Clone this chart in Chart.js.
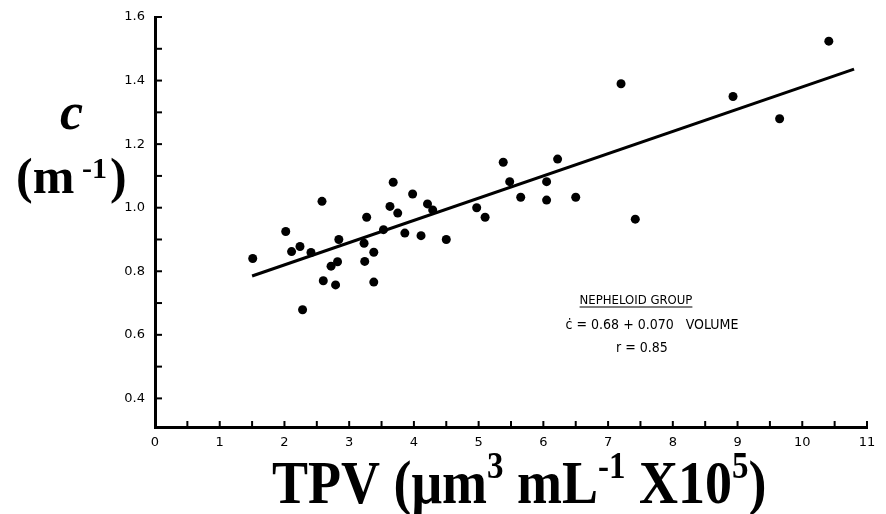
<!DOCTYPE html>
<html>
<head>
<meta charset="utf-8">
<script src="https://cdn.jsdelivr.net/npm/chart.js@4"></script>
<style>
  html, body { margin: 0; padding: 0; background: #fff; }
  #wrap { width: 886px; height: 514px; }
</style>
</head>
<body>
<div id="wrap"><canvas id="myChart" width="886" height="514"></canvas></div>
<script>
// nepheloid group: total particle volume vs beam attenuation
const tpv = [1.51, 2.02, 2.58, 2.11, 2.24, 2.41, 2.84, 2.72, 2.82, 2.60, 2.79, 2.28,
             3.27, 3.23, 3.24, 3.38, 3.38, 3.53, 3.68, 3.63, 3.75, 3.98, 3.86, 4.11,
             4.21, 4.29, 4.50, 4.97, 5.10, 5.38, 5.48, 5.65, 6.22, 6.05, 6.05, 6.50,
             7.42, 7.20, 8.93, 9.65, 10.41];
const beamC = [0.84, 0.925, 1.02, 0.862, 0.878, 0.859, 0.90, 0.816, 0.83, 0.77, 0.757, 0.679,
               0.97, 0.888, 0.831, 0.86, 0.766, 0.931, 1.08, 1.004, 0.983, 1.043, 0.92, 0.912,
               1.012, 0.993, 0.90, 1.00, 0.97, 1.143, 1.082, 1.033, 1.153, 1.082, 1.024, 1.033,
               0.964, 1.39, 1.35, 1.28, 1.524];

// fitted line c = 0.68 + 0.070 VOLUME
const fitIntercept = 0.68;
const fitSlope = 0.070;
const fitRange = [1.5, 10.8];

const xTicks = [0, 1, 2, 3, 4, 5, 6, 7, 8, 9, 10, 11];
const yTicks = [0.4, 0.6, 0.8, 1.0, 1.2, 1.4, 1.6];

const points = tpv.map((v, i) => ({ x: v, y: beamC[i] }));
const fitLine = fitRange.map(v => ({ x: v, y: fitIntercept + fitSlope * v }));

// inward ticks + titles + annotation
const paperDecor = {
  id: 'paperDecor',
  afterDraw(chart) {
    const ctx = chart.ctx;
    const xs = chart.scales.x, ys = chart.scales.y;
    const x0 = xs.left, y0 = ys.bottom;
    ctx.save();
    ctx.strokeStyle = '#000';
    ctx.lineWidth = 2;
    for (let v = 0.5; v <= 11; v += 0.5) {
      const px = xs.getPixelForValue(v);
      ctx.beginPath();
      ctx.moveTo(px, y0);
      ctx.lineTo(px, y0 - 6);
      ctx.stroke();
    }
    for (let v = 0.4; v <= 1.6001; v += 0.1) {
      const py = ys.getPixelForValue(v);
      ctx.beginPath();
      ctx.moveTo(x0, py);
      ctx.lineTo(x0 + 7, py);
      ctx.stroke();
    }

    // y title
    ctx.fillStyle = '#000';
    ctx.textBaseline = 'alphabetic';
    ctx.textAlign = 'left';
    ctx.font = 'italic bold 52px "Liberation Serif"';
    ctx.fillText('c', 60, 129);
    ctx.font = 'bold 50px "Liberation Serif"';
    ctx.fillText('(m', 16, 193);
    ctx.font = 'bold 30px "Liberation Serif"';
    ctx.fillText('-1', 82, 178);
    ctx.font = 'bold 50px "Liberation Serif"';
    ctx.fillText(')', 110, 193);

    // x title, slightly tall type
    ctx.save();
    ctx.translate(272, 503);
    ctx.scale(1, 1.15);
    let cx = 0;
    const parts = [
      ['TPV (\u03bcm', 0, 54], ['3', -22, 33], [' mL', 0, 54], ['-1', -22, 33],
      [' X10', 0, 54], ['5', -22, 33], [')', 0, 54]
    ];
    parts.forEach(([t, dy, sz]) => {
      ctx.font = 'bold ' + sz + 'px "Liberation Serif"';
      ctx.fillText(t, cx, dy);
      cx += ctx.measureText(t).width;
    });
    ctx.restore();

    // regression note
    ctx.font = '13px "DejaVu Sans Condensed", "DejaVu Sans"';
    ctx.textAlign = 'center';
    ctx.fillText('NEPHELOID GROUP', 636, 304);
    const w = ctx.measureText('NEPHELOID GROUP').width;
    ctx.lineWidth = 1.2;
    ctx.beginPath();
    ctx.moveTo(636 - w / 2, 307);
    ctx.lineTo(636 + w / 2, 307);
    ctx.stroke();
    ctx.font = '14px "DejaVu Sans Condensed", "DejaVu Sans"';
    ctx.fillText('\u010b = 0.68 + 0.070   VOLUME', 652, 329);
    ctx.fillText('r = 0.85', 642, 352);
    ctx.restore();
  }
};

const myChart = new Chart(document.getElementById('myChart').getContext('2d'), {
  type: 'scatter',
  data: {
    datasets: [{
      label: 'Nepheloid group',
      data: points,
      backgroundColor: '#000',
      borderColor: '#000',
      pointRadius: 4.5,
      pointBorderWidth: 0
    }, {
      type: 'line',
      label: 'fit',
      data: fitLine,
      borderColor: '#000',
      borderWidth: 3,
      pointRadius: 0,
      fill: false
    }]
  },
  options: {
    responsive: false,
    animation: false,
    layout: { padding: { left: 0, top: 17, right: 19, bottom: 0 } },
    plugins: { legend: { display: false }, tooltip: { enabled: false } },
    scales: {
      x: {
        type: 'linear',
        min: 0, max: 11,
        afterFit: s => { s.height = 87; },
        afterBuildTicks: s => { s.ticks = xTicks.map(v => ({ value: v })); },
        grid: { display: false },
        border: { display: true, color: '#000', width: 3 },
        ticks: { color: '#000', padding: 0, font: { size: 13, family: 'DejaVu Sans' } }
      },
      y: {
        type: 'linear',
        min: 0.31, max: 1.6,
        afterFit: s => { s.width = 155; },
        afterBuildTicks: s => { s.ticks = yTicks.map(v => ({ value: v })); },
        grid: { display: false },
        border: { display: true, color: '#000', width: 3 },
        ticks: {
          color: '#000', padding: 2,
          font: { size: 13, family: 'DejaVu Sans' },
          callback: v => v.toFixed(1)
        }
      }
    }
  },
  plugins: [paperDecor]
});
</script>
</body>
</html>
